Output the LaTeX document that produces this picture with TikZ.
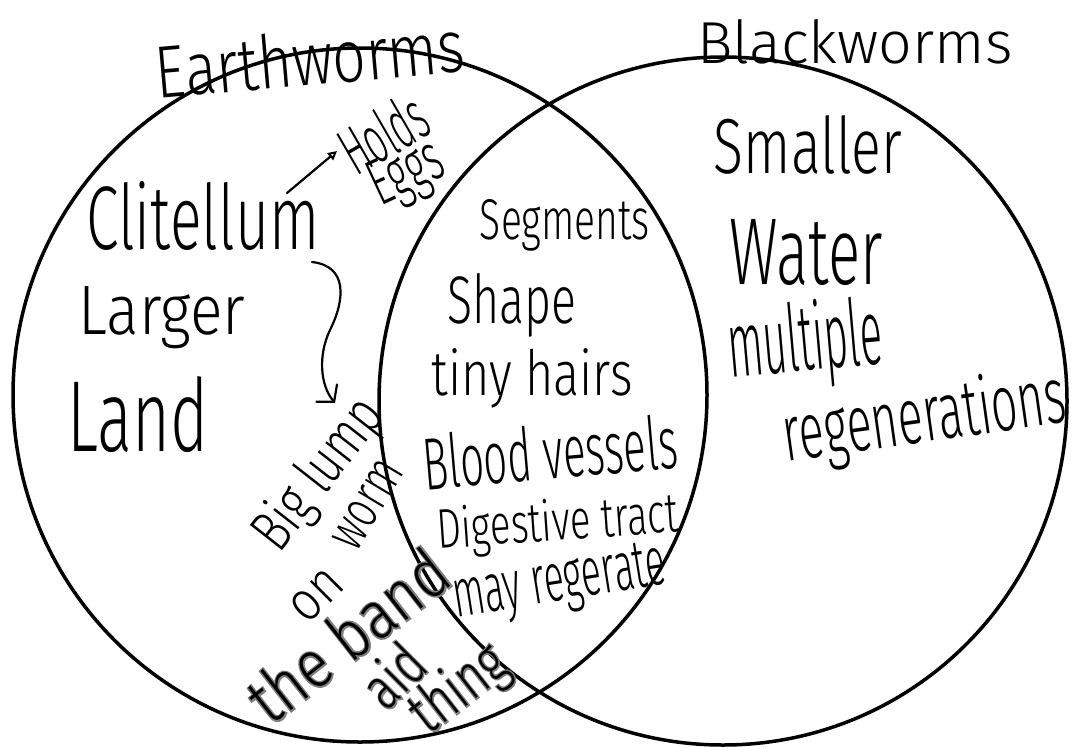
\documentclass[tikz,border=0pt]{standalone}
\usepackage{fontspec}
\usepackage{graphicx}
\newfontfamily\handfont{Fira Sans Light}
\newfontfamily\halofont{Fira Sans Light}[FakeBold=5]
\usetikzlibrary{arrows.meta,calc}
\newcommand{\hw}[3]{\resizebox{#1pt}{#2pt}{\handfont #3}}
\newcommand{\hwhalo}[3]{\resizebox{#1pt}{#2pt}{\halofont #3}}
\tikzset{
  hand/.style={inner sep=0pt, outer sep=0pt},
  ring/.style={circle, draw, line width=3.5pt, inner sep=0pt, outer sep=0pt},
  pen/.style={line width=2.2pt, line cap=round, line join=round},
}
% #1 name, #2 position, #3 transform, #4 width, #5 height, #6 text
\newcommand{\halotext}[6]{%
  \node[hand, #3, text=black!50] (#1halo) at (#2) {\hwhalo{#4}{#5}{#6}};
  \node[hand, #3] (#1) at (#2) {\hw{#4}{#5}{#6}};}
\begin{document}
\begin{tikzpicture}[x=1pt, y=-1pt]
\fill[white] (0,0) rectangle (1081,747);
\useasboundingbox (0,0) rectangle (1081,747);

% circles
\node[ring, minimum size=694pt] (leftring) at (360,395) {};
\node[ring, minimum size=688pt] (rightring) at (723,401) {};

% titles
\node[hand, rotate=5] (earth) at (310,58) {\hw{310}{55}{Earthworms}};
\node[hand] (black) at (855,42) {\hw{315}{44}{Blackworms}};

% left set
\node[hand] (clit) at (203,216) {\hw{233}{68}{Clitellum}};
\node[hand, rotate=30] (holds) at (383,133) {\hw{90}{50}{Holds}};
\node[hand, rotate=25] (eggs) at (408,176) {\hw{75}{45}{Eggs}};
\node[hand] (larger) at (162,318) {\hw{167}{48}{Larger}};
\node[hand] (land) at (138,415) {\hw{141}{75}{Land}};
\node[hand, rotate=52] (biglump) at (320,475) {\hw{175}{45}{Big lump}};
\node[hand, rotate=59] (worm) at (368,505) {\hw{95}{30}{worm}};
\node[hand, rotate=45] (on) at (317,596) {\hw{55}{30}{on}};
\halotext{band}{348,635}{rotate=38}{235}{50}{the band}
\halotext{aid}{393,675}{rotate=45}{62}{45}{aid}
\halotext{thing}{460,690}{rotate=38}{105}{46}{thing}

% arrows in left set
\coordinate (a1s) at (287,193);
\coordinate (a1e) at (337,151);
\draw[pen, -{Triangle[open, length=9pt, width=9pt, line width=2pt]}] (a1s) -- (a1e);
\coordinate (b1s) at (312,262);
\coordinate (b1e) at (335,403);
\draw[pen, -{Straight Barb[length=12pt, width=28pt, line width=2.2pt]}]
  (b1s) .. controls (348,266) and (345,300) .. (330,330)
        .. controls (318,355) and (320,385) .. (b1e);

% overlap
\node[hand] (seg) at (565,225) {\hw{170}{40}{Segments}};
\node[hand] (shape) at (512,305) {\hw{129}{50}{Shape}};
\node[hand] (tiny) at (532,378) {\hw{201}{47}{tiny hairs}};
\node[hand, rotate=5] (blood) at (550,452) {\hw{255}{55}{Blood vessels}};
\node[hand, rotate=4] (dig) at (558,525) {\hw{242}{42}{Digestive tract}};
\node[hand, rotate=9] (may) at (560,585) {\hw{215}{45}{may regerate}};

% right set
\node[hand] (smaller) at (808,145) {\hw{188}{58}{Smaller}};
\node[hand] (water) at (806,252) {\hw{153}{65}{Water}};
\node[hand, rotate=5] (multi) at (805,345) {\hw{155}{70}{multiple}};
\node[hand, rotate=8] (regen) at (925,420) {\hw{285}{60}{regenerations}};
\end{tikzpicture}
\end{document}
